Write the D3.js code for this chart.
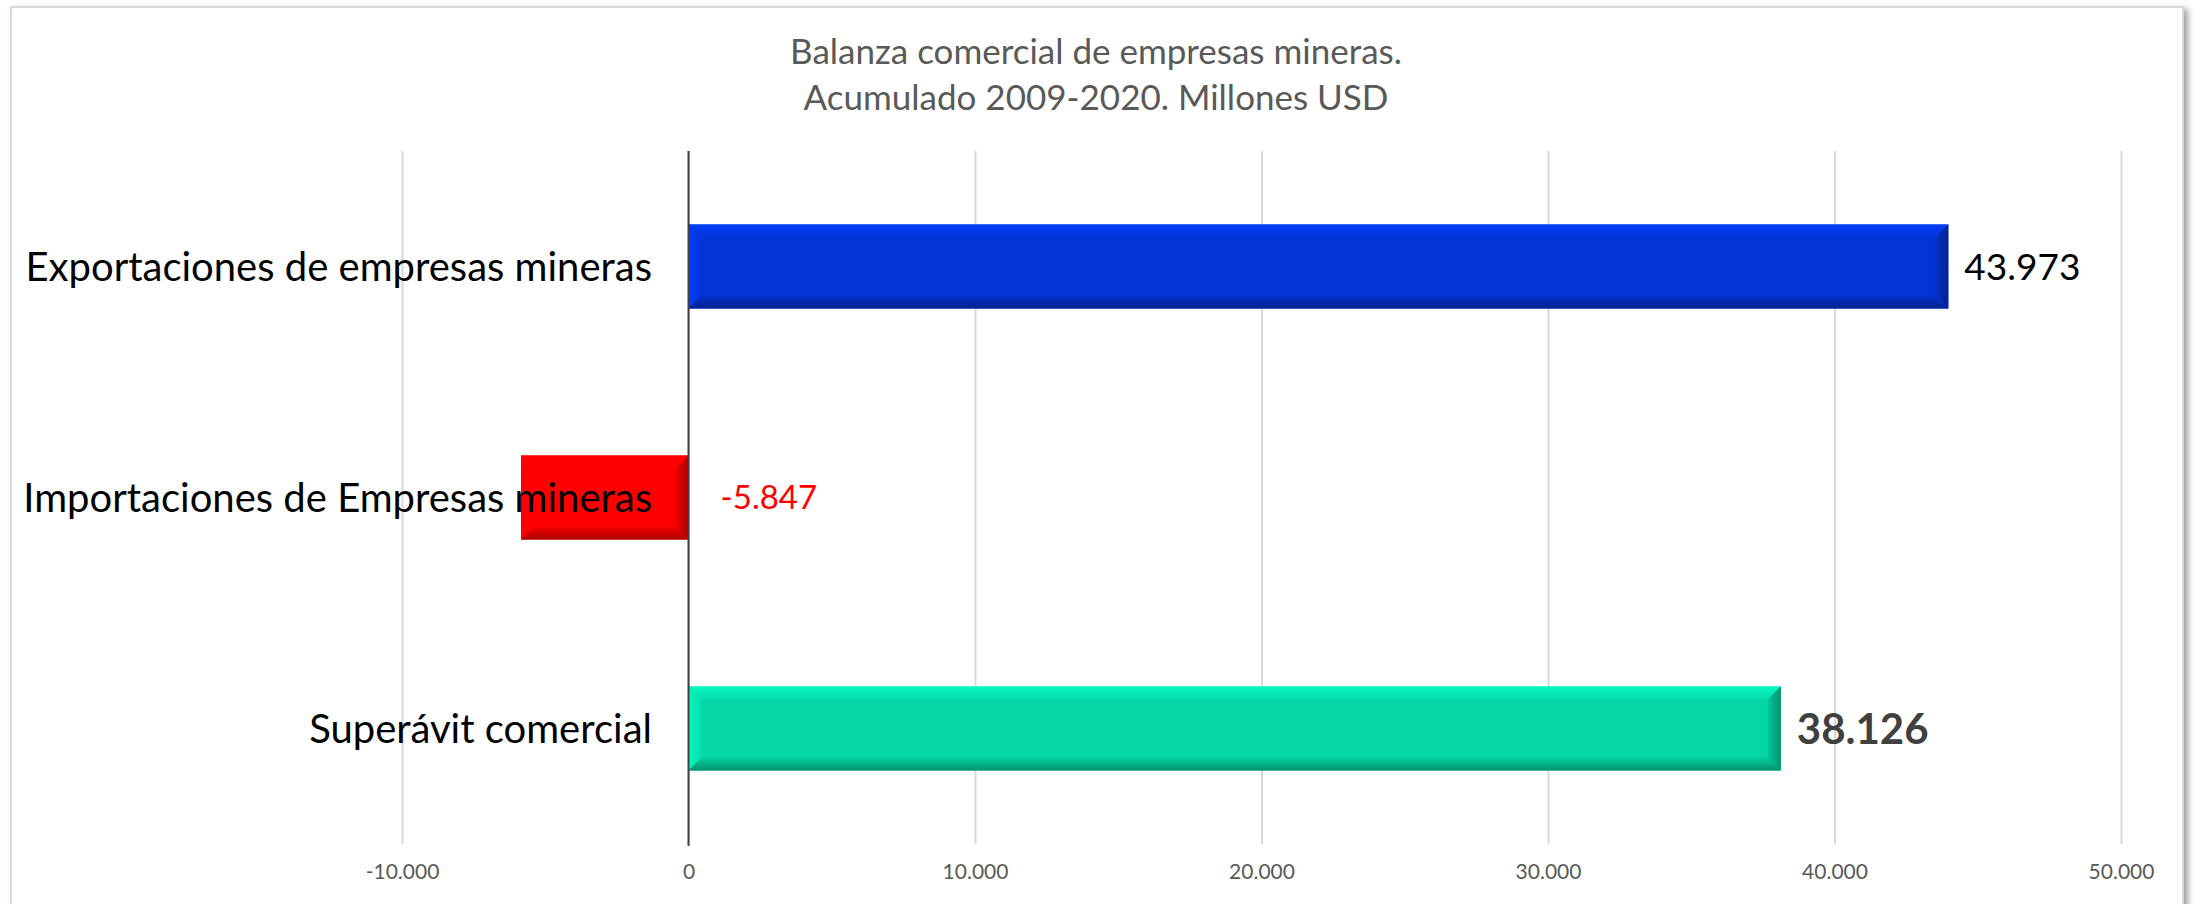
<!DOCTYPE html>
<html>
  <head>
    <meta charset="utf-8" />
    <title>Balanza comercial</title>
    <script src="https://d3js.org/d3.v7.min.js"></script>
    <style>
        body{
            margin: 0;
            background: #fff;
        }
        text{
            font-family: Lato, "Open Sans", sans-serif;
        }
    </style>
  </head>
  <body>
    <svg id="vis"></svg>

    <script>
        var width = 2193;
        var height = 904;

        // data
        var titleLines = ["Balanza comercial de empresas mineras.", "Acumulado 2009-2020. Millones USD"];
        var categories = ["Exportaciones de empresas mineras", "Importaciones de Empresas mineras", "Superávit comercial"];
        var values = [43973, -5847, 38126];
        var barColors = ["#0434d6", "#ff0000", "#05d6a6"];
        var tickValues = [-10000, 0, 10000, 20000, 30000, 40000, 50000];

        var locale = d3.formatLocale({decimal: ",", thousands: ".", grouping: [3], currency: ["", ""], minus: "-"});
        var fmt = locale.format(",.0f");

        var svg = d3.select("#vis").attr("width", width).attr("height", height);
        var defs = svg.append("defs");

        // frame shadow
        var shadow = defs.append("filter").attr("id", "shadow")
            .attr("x", "-5%").attr("y", "-5%").attr("width", "110%").attr("height", "110%");
        shadow.append("feDropShadow").attr("dx", 4).attr("dy", 3)
            .attr("stdDeviation", 3).attr("flood-color", "#777").attr("flood-opacity", 0.7);

        svg.append("rect")
            .attr("x", 11).attr("y", 7)
            .attr("width", 2172).attr("height", 930)
            .attr("fill", "#fff")
            .attr("stroke", "#d9d9d9").attr("stroke-width", 2)
            .attr("filter", "url(#shadow)");

        // title
        svg.append("text")
            .attr("x", 1096).attr("y", 64)
            .attr("text-anchor", "middle")
            .attr("fill", "#595959")
            .attr("font-size", 35)
            .selectAll("tspan").data(titleLines).enter().append("tspan")
            .attr("x", 1096)
            .attr("dy", function(d, i) { return i === 0 ? 0 : 46; })
            .text(function(d) { return d; });

        // scales
        var x = d3.scaleLinear().domain([-10000, 50000]).range([402, 2121]);
        var y = d3.scaleBand().domain(categories).range([151, 844])
            .paddingInner(0.636).paddingOuter(0.318);

        // gridlines + tick labels
        var axis = svg.append("g")
            .attr("transform", "translate(0," + 844 + ")")
            .call(d3.axisBottom(x).tickValues(tickValues).tickFormat(fmt).tickSize(-(844 - 151)).tickPadding(20));
        axis.select(".domain").remove();
        axis.selectAll(".tick line").attr("stroke", "#d9d9d9").attr("stroke-width", 2);
        axis.selectAll(".tick text")
            .attr("fill", "#595959")
            .attr("font-size", 21)
            .style("font-family", "Lato, sans-serif");

        // bevel gradients
        function shade(c, k) {
            var col = d3.color(c);
            return k > 0 ? col.brighter(k).formatHex() : col.darker(-k).formatHex();
        }

        barColors.forEach(function(c, i) {
            var gt = defs.append("linearGradient").attr("id", "top" + i)
                .attr("x1", 0).attr("y1", 0).attr("x2", 0).attr("y2", 1);
            gt.append("stop").attr("offset", 0).attr("stop-color", shade(c, 0.55));
            gt.append("stop").attr("offset", 0.3).attr("stop-color", shade(c, 0.3));
            gt.append("stop").attr("offset", 1).attr("stop-color", shade(c, 0.08));

            var gb = defs.append("linearGradient").attr("id", "bot" + i)
                .attr("x1", 0).attr("y1", 0).attr("x2", 0).attr("y2", 1);
            gb.append("stop").attr("offset", 0).attr("stop-color", shade(c, -0.1));
            gb.append("stop").attr("offset", 1).attr("stop-color", shade(c, -1.1));

            var gl = defs.append("linearGradient").attr("id", "lft" + i)
                .attr("x1", 0).attr("y1", 0).attr("x2", 1).attr("y2", 0);
            gl.append("stop").attr("offset", 0).attr("stop-color", shade(c, 0.4));
            gl.append("stop").attr("offset", 1).attr("stop-color", shade(c, 0.1));

            var gr = defs.append("linearGradient").attr("id", "rgt" + i)
                .attr("x1", 0).attr("y1", 0).attr("x2", 1).attr("y2", 0);
            gr.append("stop").attr("offset", 0).attr("stop-color", shade(c, -0.2));
            gr.append("stop").attr("offset", 1).attr("stop-color", shade(c, -1.1));
        });

        // bars
        var bev = 13;
        var bars = svg.append("g").selectAll("g").data(values).enter().append("g");

        bars.each(function(d, i) {
            var g = d3.select(this);
            var x0 = x(Math.min(0, d)), x1 = x(Math.max(0, d));
            var y0 = y(categories[i]), y1 = y0 + y.bandwidth();
            var c = barColors[i];
            g.append("rect").attr("x", x0).attr("y", y0)
                .attr("width", x1 - x0).attr("height", y1 - y0).attr("fill", c);
            var pts = function(a) { return a.map(function(p) { return p.join(","); }).join(" "); };
            g.append("polygon").attr("fill", "url(#top" + i + ")")
                .attr("points", pts([[x0, y0], [x1, y0], [x1 - bev, y0 + bev], [x0 + bev, y0 + bev]]));
            g.append("polygon").attr("fill", "url(#lft" + i + ")")
                .attr("points", pts([[x0, y0], [x0 + bev, y0 + bev], [x0 + bev, y1 - bev], [x0, y1]]));
            g.append("polygon").attr("fill", "url(#bot" + i + ")")
                .attr("points", pts([[x0, y1], [x0 + bev, y1 - bev], [x1 - bev, y1 - bev], [x1, y1]]));
            g.append("polygon").attr("fill", "url(#rgt" + i + ")")
                .attr("points", pts([[x1, y0], [x1, y1], [x1 - bev, y1 - bev], [x1 - bev, y0 + bev]]));
        });

        // zero line
        svg.append("line")
            .attr("x1", x(0)).attr("x2", x(0))
            .attr("y1", 151).attr("y2", 846)
            .attr("stroke", "#404040").attr("stroke-width", 2);

        // category labels
        svg.append("g").selectAll("text").data(categories).enter().append("text")
            .attr("x", 652)
            .attr("y", function(d) { return y(d) + y.bandwidth() / 2; })
            .attr("dy", "0.36em")
            .attr("text-anchor", "end")
            .attr("fill", "#000")
            .attr("font-size", 40)
            .text(function(d) { return d; });

        // value labels
        var labelStyle = [
            {fill: "#000", size: 37, weight: "normal"},
            {fill: "#ff0000", size: 33, weight: "normal"},
            {fill: "#404040", size: 42, weight: "bold"}
        ];
        svg.append("g").selectAll("text").data(values).enter().append("text")
            .attr("x", function(d) { return d >= 0 ? x(d) + 16 : x(0) + 32; })
            .attr("y", function(d, i) { return y(categories[i]) + y.bandwidth() / 2; })
            .attr("dy", "0.36em")
            .attr("fill", function(d, i) { return labelStyle[i].fill; })
            .attr("font-size", function(d, i) { return labelStyle[i].size; })
            .attr("font-weight", function(d, i) { return labelStyle[i].weight; })
            .text(function(d) { return fmt(d); });
    </script>
  </body>
</html>
